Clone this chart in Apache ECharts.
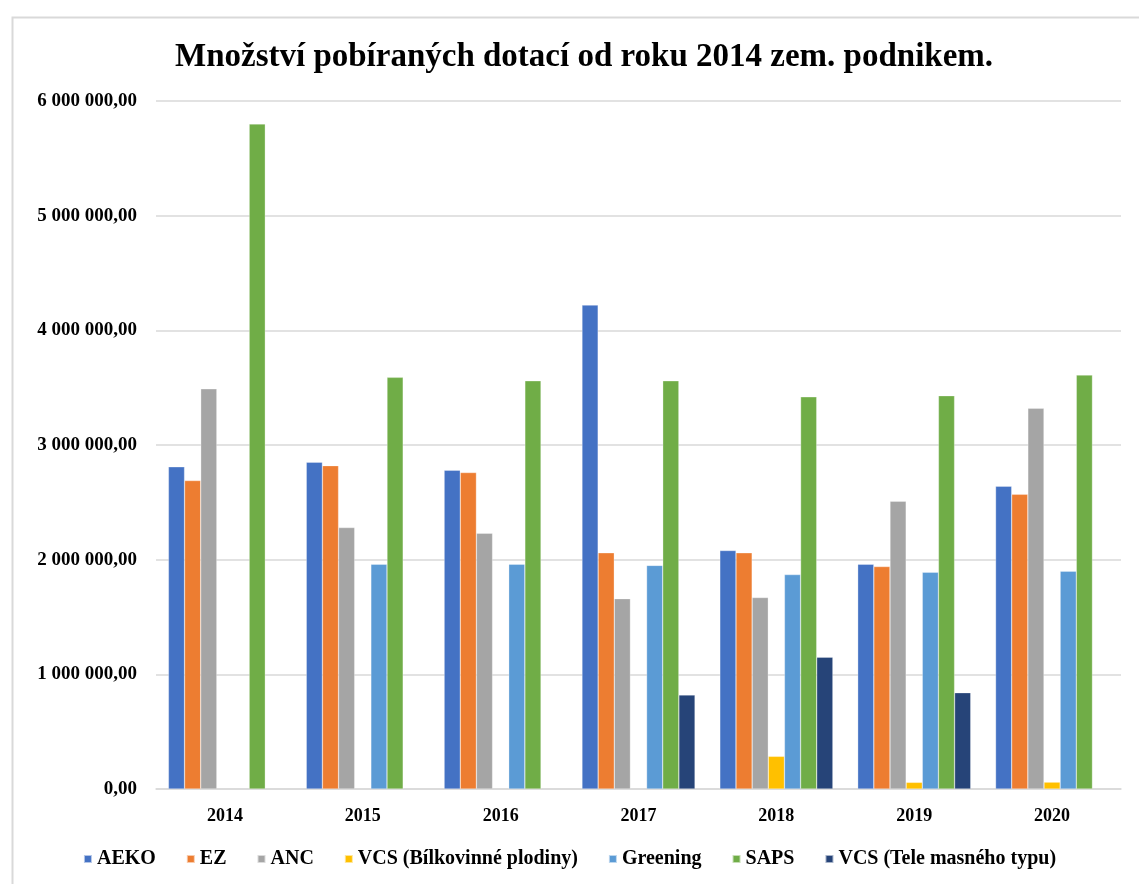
<!DOCTYPE html>
<html>
<head>
<meta charset="utf-8">
<script src="https://cdn.jsdelivr.net/npm/echarts@6/dist/echarts.min.js"></script>
<style>html,body{margin:0;padding:0;background:#fff}#c{width:1139px;height:884px}</style>
</head>
<body>
<div id="c"></div>
<script>
const years = ['2014','2015','2016','2017','2018','2019','2020'];
const seriesNames = ['AEKO','EZ','ANC','VCS (Bílkovinné plodiny)','Greening','SAPS','VCS (Tele masného typu)'];
const aeko = [2810000, 2850000, 2780000, 4220000, 2080000, 1960000, 2640000];
const ez = [2690000, 2820000, 2760000, 2060000, 2060000, 1940000, 2570000];
const anc = [3490000, 2280000, 2230000, 1660000, 1670000, 2510000, 3320000];
const vcsBilk = [null, null, null, null, 285000, 58000, 60000];
const greening = [null, 1960000, 1960000, 1950000, 1870000, 1890000, 1900000];
const saps = [5800000, 3590000, 3560000, 3560000, 3420000, 3430000, 3610000];
const vcsTele = [null, null, null, 820000, 1150000, 840000, null];
const colors = ['#4472C4','#ED7D31','#A5A5A5','#FFC000','#5B9BD5','#70AD47','#264478'];
const allData = [aeko, ez, anc, vcsBilk, greening, saps, vcsTele];

function fmt(v){
  const s = Math.round(v).toString().replace(/\B(?=(\d{3})+(?!\d))/g, ' ');
  return s + ',00';
}
const font = "'Liberation Serif', 'Times New Roman', serif";
const chart = echarts.init(document.getElementById('c'));
chart.setOption({
  backgroundColor: '#fff',
  animation: false,
  color: colors,
  graphic: [{
    type: 'rect', left: 10, top: 15,
    shape: {width: 1200, height: 900},
    style: {fill: 'none', stroke: '#d9d9d9', lineWidth: 2}
  }],
  title: {
    text: 'Množství pobíraných dotací od roku 2014 zem. podnikem.',
    left: 170, top: 36,
    textStyle: {fontFamily: font, fontWeight: 'bold', fontSize: 33, color: '#000'}
  },
  legend: {
    bottom: 10, left: 'center',
    icon: 'rect', itemWidth: 8, itemHeight: 8, itemGap: 30,
    textStyle: {fontFamily: font, fontWeight: 'bold', fontSize: 20, color: '#000'},
    data: seriesNames
  },
  grid: {left: 156, right: 18, top: 101, bottom: 95},
  xAxis: {
    type: 'category', data: years,
    axisLine: {lineStyle: {color: '#d9d9d9', width: 1.5}},
    axisTick: {show: false},
    axisLabel: {fontFamily: font, fontWeight: 'bold', fontSize: 18, color: '#000', margin: 18}
  },
  yAxis: {
    type: 'value', min: 0, max: 6000000, interval: 1000000,
    axisLine: {show: false}, axisTick: {show: false},
    splitLine: {lineStyle: {color: '#d9d9d9', width: 1.5}},
    axisLabel: {fontFamily: font, fontWeight: 'bold', fontSize: 19, color: '#000', margin: 19, formatter: fmt}
  },
  series: seriesNames.map((n, i) => ({
    name: n, type: 'bar', data: allData[i],
    barGap: '0%', barCategoryGap: '18%',
    itemStyle: {borderColor: 'rgba(255,255,255,0.6)', borderWidth: 0.5}
  }))
});
</script>
</body>
</html>
